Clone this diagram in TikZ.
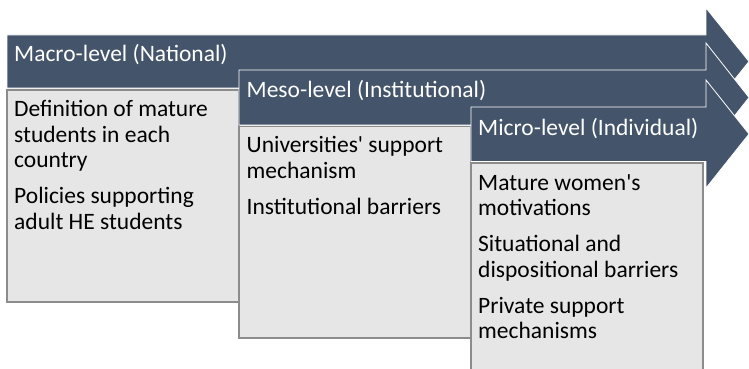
\documentclass[tikz,border=0pt]{standalone}
\usepackage{fontspec}
\setmainfont{Carlito}
% plain family without TeX ligature mapping, so ' stays a straight apostrophe
\newfontfamily\levelfont{Carlito}
\definecolor{slate}{HTML}{44546A}
\definecolor{panel}{HTML}{E7E6E6}
\definecolor{panelrule}{HTML}{8C8C8C}
\tikzset{
  levelarrow/.style={fill=slate, draw=white, line width=0.8pt, line join=miter},
  panelbox/.style={fill=panel, draw=panelrule, line width=1.2pt},
  leveltitle/.style={anchor=base west, inner sep=0pt, text=white,
    font=\levelfont\fontsize{23.5}{25.5}\selectfont},
  paneltext/.style={anchor=base west, inner sep=0pt, text=black,
    font=\levelfont\fontsize{23.5}{25.5}\selectfont},
}
% top-aligned paragraph block: the node baseline is the first line's baseline
\newcommand\panelblock[1]{\parbox[t]{226pt}{\raggedright #1}}
\begin{document}
\begin{tikzpicture}[x=1pt,y=-1pt]
\clip (0,0) rectangle (749,369);
\fill[white] (0,0) rectangle (749,369);

% Macro level
\draw[levelarrow] (7,35) -- (706,35) -- (706,8) -- (749,61.5) -- (706,115)
  -- (706,88) -- (7,88) -- cycle;
\draw[panelbox] (7,90) rectangle (239,302);
\node[leveltitle] (macro) at (14,61.5) {Macro-level (National)};
\node[paneltext] (macrotext) at (14,116.5) {\panelblock{Definition of mature\\
  students in each\\ country\\[10.5pt] Policies supporting\\ adult HE students}};

% Meso level
\draw[levelarrow] (239,70) -- (706,70) -- (706,43) -- (749,97.5) -- (706,152)
  -- (706,125) -- (239,125) -- cycle;
\draw[panelbox] (239,126.5) rectangle (471,338);
\node[leveltitle] (meso) at (246.5,97) {Meso-level (Institutional)};
\node[paneltext] (mesotext) at (246.5,152.5) {\panelblock{Universities' support\\
  mechanism\\[10.5pt] Institutional barriers}};

% Micro level
\draw[levelarrow] (471,107) -- (706,107) -- (706,80) -- (749,134) -- (706,188)
  -- (706,161.5) -- (471,161.5) -- cycle;
\draw[panelbox] (471,163) rectangle (703,380);
\node[leveltitle] (micro) at (478,135) {Micro-level (Individual)};
\node[paneltext] (microtext) at (478,190) {\panelblock{Mature women's\\
  motivations\\[10.5pt] Situational and\\ dispositional barriers\\[10.5pt]
  Private support\\ mechanisms}};
\end{tikzpicture}
\end{document}
